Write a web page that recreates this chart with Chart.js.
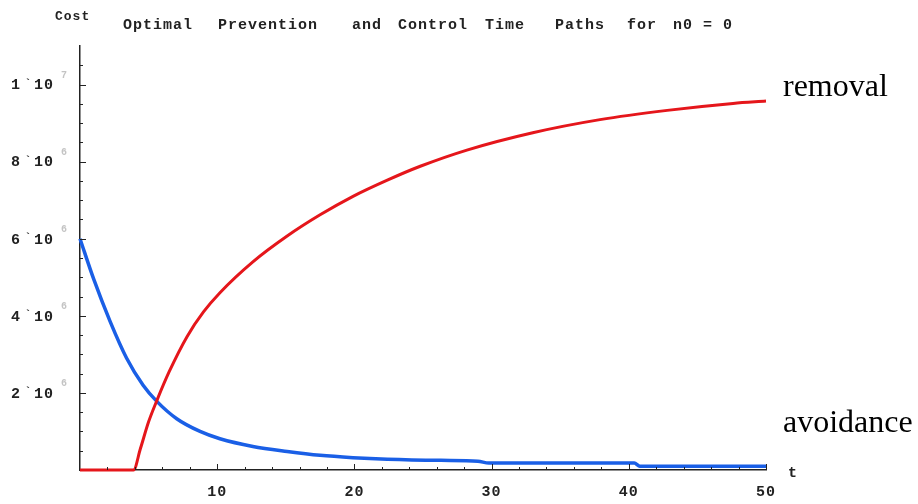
<!DOCTYPE html>
<html>
<head>
<meta charset="utf-8">
<script src="https://cdn.jsdelivr.net/npm/chart.js@4"></script>
<style>
  html, body { margin: 0; padding: 0; background: #fff; }
  #wrap { width: 918px; height: 504px; }
</style>
</head>
<body>
<div id="wrap"><canvas id="grafica" width="918" height="504"></canvas></div>
<script>
// datos (valores en unidades de costo)
const tRemoval = [0, 3.9, 4.4, 5.0, 5.6, 6.5, 7.8, 9.0, 10.2, 12.6, 15.1, 17.5, 19.9, 22.4, 24.8, 28.2, 33.0, 37.9, 42.8, 47.6, 50];
const removal = [0, 0, 0.55e6, 1.25e6, 1.8e6, 2.55e6, 3.46e6, 4.1e6, 4.6e6, 5.4e6, 6.07e6, 6.62e6, 7.1e6, 7.52e6, 7.88e6, 8.3e6, 8.75e6, 9.09e6, 9.33e6, 9.51e6, 9.57e6];

const tAvoidance = [0, 1, 2.2, 3.4, 4.6, 5.6, 7.05, 8.75, 10.2, 12.6, 15.1, 17.5, 19.9, 22.4, 26.3, 29.0, 29.8, 40.4, 40.8, 50];
const avoidance = [6.0e6, 4.95e6, 3.85e6, 2.9e6, 2.2e6, 1.78e6, 1.33e6, 1.0e6, 0.81e6, 0.61e6, 0.48e6, 0.38e6, 0.32e6, 0.28e6, 0.25e6, 0.23e6, 0.18e6, 0.18e6, 0.1e6, 0.1e6];

const xTickLabels = [10, 20, 30, 40, 50];
const yTickLabels = [2e6, 4e6, 6e6, 8e6, 1e7];

const tituloPalabras = [["Optimal", 123], ["Prevention", 218], ["and", 352], ["Control", 398],
                        ["Time", 485], ["Paths", 555], ["for", 627], ["n0 = 0", 673]];

const fuenteMono = "bold 15px 'Liberation Mono', monospace";

const aPuntos = (xs, ys) => xs.map((x, i) => ({ x: x, y: ys[i] }));

// ejes con marcas hacia adentro, etiquetas y textos al estilo de la figura
const decoraciones = {
    id: "decoraciones",
    afterDraw(chart) {
        const ctx = chart.ctx;
        const xs = chart.scales.x;
        const ys = chart.scales.y;
        const y0 = ys.getPixelForValue(0);
        const x0 = xs.getPixelForValue(0);
        ctx.save();
        ctx.strokeStyle = "#222";
        ctx.lineWidth = 1;
        ctx.beginPath();
        for (let t = 2; t <= 50; t += 2) {
            const px = Math.round(xs.getPixelForValue(t)) + 0.5;
            const len = t % 10 === 0 ? 6 : 3;
            ctx.moveTo(px, y0);
            ctx.lineTo(px, y0 - len);
        }
        for (let v = 0.5e6; v <= 1.05e7; v += 0.5e6) {
            const py = Math.round(ys.getPixelForValue(v)) + 0.5;
            const len = Math.round(v / 0.5e6) % 4 === 0 ? 6 : 3;
            ctx.moveTo(x0, py);
            ctx.lineTo(x0 + len, py);
        }
        ctx.stroke();

        ctx.fillStyle = "#222";
        ctx.font = fuenteMono;
        ctx.letterSpacing = "1px";
        ctx.textBaseline = "middle";
        ctx.textAlign = "center";
        xTickLabels.forEach(v => {
            ctx.fillText(String(v), xs.getPixelForValue(v), 492);
        });

        ctx.textAlign = "left";
        yTickLabels.forEach(v => {
            const py = ys.getPixelForValue(v);
            const exp = Math.floor(Math.log10(v));
            const man = Math.round(v / Math.pow(10, exp));
            ctx.fillStyle = "#222";
            ctx.font = fuenteMono;
            ctx.fillText(String(man), 11, py + 1);
            ctx.fillText("10", 34, py + 1);
            ctx.font = "bold 10px 'Liberation Mono', monospace";
            ctx.fillText("`", 25, py - 1);
            ctx.fillStyle = "#c4c4c4";
            ctx.fillText(String(exp), 61, py - 9);
        });

        ctx.fillStyle = "#222";
        ctx.font = "bold 13px 'Liberation Mono', monospace";
        ctx.fillText("Cost", 55, 17);
        ctx.font = fuenteMono;
        tituloPalabras.forEach(([w, x]) => ctx.fillText(w, x, 25));
        ctx.fillText("t", 788, 473);

        ctx.letterSpacing = "0px";
        ctx.fillStyle = "#000";
        ctx.textBaseline = "alphabetic";
        ctx.font = "32px 'Liberation Serif', serif";
        ctx.fillText("removal", 783, 96);
        ctx.fillText("avoidance", 783, 432);
        ctx.restore();
    }
};

new Chart(document.getElementById("grafica"), {
    type: "line",
    data: {
        datasets: [
            {
                label: "removal",
                data: aPuntos(tRemoval, removal),
                borderColor: "#e5161b",
                borderWidth: 3,
                pointRadius: 0,
                cubicInterpolationMode: "monotone",
                clip: false
            },
            {
                label: "avoidance",
                data: aPuntos(tAvoidance, avoidance),
                borderColor: "#1a5fe6",
                borderWidth: 3.5,
                pointRadius: 0,
                cubicInterpolationMode: "monotone",
                clip: false
            }
        ]
    },
    options: {
        responsive: false,
        animation: false,
        devicePixelRatio: 1,
        layout: { padding: { top: 46, right: 152, left: 0, bottom: 0 } },
        plugins: {
            legend: { display: false },
            tooltip: { enabled: false },
            title: { display: false }
        },
        scales: {
            x: {
                type: "linear",
                min: 0,
                max: 50,
                grid: { display: false },
                border: { color: "#222", width: 1.5 },
                ticks: { display: false },
                afterFit: s => { s.height = 34; }
            },
            y: {
                min: 0,
                max: 1.1e7,
                grid: { display: false },
                border: { color: "#222", width: 1.5 },
                ticks: { display: false },
                afterFit: s => { s.width = 80; }
            }
        }
    },
    plugins: [decoraciones]
});
</script>
</body>
</html>
